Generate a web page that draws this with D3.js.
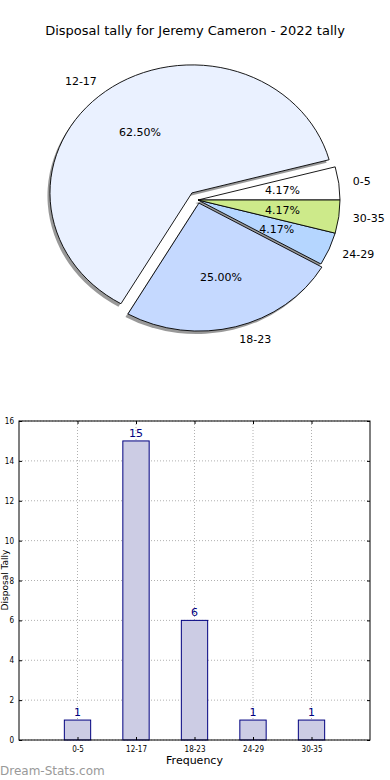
<!DOCTYPE html>
<html><head><meta charset="utf-8">
<script src="https://cdn.jsdelivr.net/npm/d3@7"></script>
<style>body{margin:0;background:#fff;}svg{display:block;font-family:"DejaVu Sans",sans-serif;}</style>
</head><body><svg id="c" width="390" height="780"></svg>
<script>
const categories = ["0-5","12-17","18-23","24-29","30-35"];
const counts = [1,15,6,1,1];
const pieColors = ["#ffffff","#eaf1ff","#c5d9ff","#b5d6ff","#cdea8a"];
const explode = [0,0.07,0.025,0,0];
const yTicks = [0,2,4,6,8,10,12,14,16];
const title = "Disposal tally for Jeremy Cameron - 2022 tally";

const svg = d3.select("#c");
svg.append("rect").attr("width",390).attr("height",780).attr("fill","#fff");

// title
svg.append("text").attr("x",195).attr("y",35).attr("text-anchor","middle")
  .attr("font-size",13).attr("fill","#000").text(title);

// ---- PIE ----
const cx=198, cy=200, rx=142, ry=128;
const total = d3.sum(counts);
const pie = d3.pie().sort(null).value(d=>d).startAngle(Math.PI/2).endAngle(Math.PI/2-2*Math.PI);
const arcs = pie(counts);
const arc = d3.arc().innerRadius(0).outerRadius(1);
function mid(a){ const m=(a.startAngle+a.endAngle)/2; return Math.PI/2 - m; }
const pg = svg.append("g");
arcs.forEach((a,i)=>{
  const t=mid(a);
  const ox=cx+explode[i]*rx*Math.cos(t), oy=cy-explode[i]*ry*Math.sin(t);
  pg.append("path").attr("d",arc(a))
    .attr("transform",`translate(${ox-2.5},${oy+3}) scale(${rx},${ry})`)
    .attr("fill","#777").attr("opacity",0.75);
});
arcs.forEach((a,i)=>{
  const t=mid(a);
  const ox=cx+explode[i]*rx*Math.cos(t), oy=cy-explode[i]*ry*Math.sin(t);
  pg.append("path").attr("d",arc(a))
    .attr("transform",`translate(${ox},${oy}) scale(${rx},${ry})`)
    .attr("fill",pieColors[i]).attr("stroke","#000").attr("stroke-width",0.9)
    .attr("vector-effect","non-scaling-stroke");
});
arcs.forEach((a,i)=>{
  const t=mid(a);
  const ox=cx+explode[i]*rx*Math.cos(t), oy=cy-explode[i]*ry*Math.sin(t);
  const lx=ox+1.1*rx*Math.cos(t), ly=oy-1.1*ry*Math.sin(t);
  pg.append("text").attr("x",lx).attr("y",ly).attr("dy","0.35em")
    .attr("text-anchor",Math.cos(t)>=0?"start":"end").attr("font-size",11).text(categories[i]);
  const px=ox+0.6*rx*Math.cos(t), py=oy-0.6*ry*Math.sin(t);
  pg.append("text").attr("x",px).attr("y",py).attr("dy","0.35em")
    .attr("text-anchor","middle").attr("font-size",11)
    .text((counts[i]/total*100).toFixed(2)+"%");
});

// ---- BAR ----
const L=19,R=370,T=421,B=740;
const x = d3.scaleLinear().domain([-1,5]).range([L,R]);
const y = d3.scaleLinear().domain([0,16]).range([B,T]);
const bw = x(0.45)-x(0);
const bg = svg.append("g");
categories.forEach((c,i)=>{
  bg.append("line").attr("x1",x(i)).attr("x2",x(i)).attr("y1",T).attr("y2",B)
    .attr("stroke","#b0b0b0").attr("stroke-width",1).attr("stroke-dasharray","1,2");
});
yTicks.forEach(v=>{
  bg.append("line").attr("x1",L).attr("x2",R).attr("y1",y(v)).attr("y2",y(v))
    .attr("stroke","#b0b0b0").attr("stroke-width",1).attr("stroke-dasharray","1,2");
});
counts.forEach((v,i)=>{
  bg.append("rect").attr("x",x(i)-bw/2).attr("y",y(v)).attr("width",bw).attr("height",y(0)-y(v))
    .attr("fill","#ccccE4").attr("stroke","#000080").attr("stroke-width",1);
  bg.append("text").attr("x",x(i)).attr("y",y(v)-4).attr("text-anchor","middle")
    .attr("font-size",11).attr("fill","#000080").text(v);
});
bg.append("rect").attr("x",L).attr("y",T).attr("width",R-L).attr("height",B-T)
  .attr("fill","none").attr("stroke","#000").attr("stroke-width",1);
const yAxis = d3.axisLeft(y).tickValues(yTicks).tickSize(-3).tickPadding(5).tickFormat(d3.format("d"));
svg.append("g").attr("transform",`translate(${L},0)`).call(yAxis);
const yAxisR = d3.axisRight(y).tickValues(yTicks).tickSize(-3).tickFormat("");
svg.append("g").attr("transform",`translate(${R},0)`).call(yAxisR);
const xAxis = d3.axisBottom(x).tickValues(d3.range(categories.length)).tickSize(-3).tickPadding(6)
  .tickFormat(i=>categories[i]);
svg.append("g").attr("transform",`translate(0,${B})`).call(xAxis);
const xAxisT = d3.axisTop(x).tickValues(d3.range(categories.length)).tickSize(-3).tickFormat("");
svg.append("g").attr("transform",`translate(0,${T})`).call(xAxisT);
svg.selectAll(".domain").remove();
svg.selectAll(".tick line").attr("stroke","#000");
svg.selectAll(".tick text").attr("font-size",8).attr("fill","#000").attr("font-family","DejaVu Sans Condensed, DejaVu Sans, sans-serif");

svg.append("text").attr("x",x(2)).attr("y",764).attr("text-anchor","middle").attr("font-size",11).text("Frequency");
svg.append("text").attr("transform",`translate(8,580) rotate(-90)`).attr("text-anchor","middle")
  .attr("font-size",9).text("Disposal Tally");

svg.append("text").attr("x",0).attr("y",775).attr("font-size",12)
  .attr("fill","#999").text("Dream-Stats.com");
</script></body></html>
